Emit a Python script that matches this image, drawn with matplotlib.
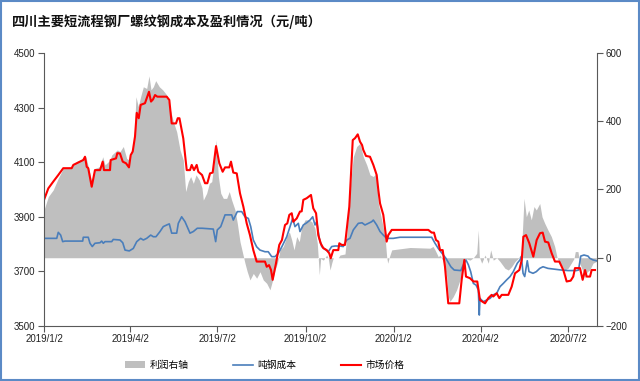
import numpy as np
import pandas as pd
import matplotlib
matplotlib.use("Agg")
import matplotlib.pyplot as plt
from matplotlib.patches import Rectangle, Patch
from matplotlib.lines import Line2D

plt.rcParams['font.family'] = ['Noto Sans CJK SC', 'DejaVu Sans']

'''---Data (days counted from 2019/1/2)---'''

title = "四川主要短流程钢厂螺纹钢成本及盈利情况（元/吨）"
labels = ["利润右轴", "吨钢成本", "市场价格"]
tick_dates = ["2019-01-02", "2019-04-02", "2019-07-02", "2019-10-02",
              "2020-01-02", "2020-04-02", "2020-07-02"]

#Market price (left axis)
price_day = [0, 4.5, 9.7, 14.9, 20.1, 28.9, 30.6, 41.0, 42.8, 44.6,
             46.2, 49.8, 53.2, 58.5, 61.3, 62.6, 68.9, 69.6, 75.2, 76.5,
             79.3, 82.2, 85.6, 88.7, 90.5, 92.6, 95.0, 96.8, 98.9, 100.9,
             105.4, 109.6, 111.7, 113.8, 115.9, 118.3, 128.1, 130.8, 133.3, 137.8,
             139.6, 141.4, 145.4, 149.0, 152.4, 154.2, 156.6, 159.4, 161.1, 165.0,
             168.1, 170.5, 173.3, 176.1, 179.6, 183.0, 186.5, 189.0, 193.4, 195.2,
             197.6, 201.2, 204.6, 208.1, 211.6, 215.0, 218.5, 222.0, 230.7, 232.5,
             234.9, 237.0, 238.7, 242.2, 245.6, 248.4, 249.8, 251.6, 254.0, 256.1,
             258.6, 260.2, 263.8, 267.2, 269.0, 270.7, 274.2, 278.7, 281.1, 284.0,
             286.3, 288.8, 291.6, 295.1, 297.8, 299.3, 302.0, 307.2, 308.3, 310.8,
             314.2, 318.7, 322.3, 324.7, 327.5, 329.9, 332.0, 333.3, 336.1, 340.3,
             343.8, 347.3, 349.0, 350.8, 354.2, 357.7, 359.4, 363.0, 401.2, 404.7,
             407.1, 409.2, 411.6, 413.4, 416.2, 418.6, 422.0, 433.5, 436.0, 438.8,
             440.5, 444.7, 448.2, 452.3, 455.1, 460.4, 463.8, 467.3, 469.0, 472.6,
             475.3, 477.8, 484.7, 488.2, 491.7, 496.2, 498.7, 500.4, 503.2, 506.6,
             510.8, 514.3, 517.8, 520.6, 523.0, 526.4, 530.0, 533.4, 537.9, 542.1,
             545.6, 549.8, 552.5, 554.3, 559.5, 562.3, 564.8, 566.5, 570.0, 571.7,
             575.2]
price = [3962, 4004, 4029, 4053, 4078, 4078, 4090, 4108, 4120, 4083,
         4078, 4010, 4071, 4071, 4102, 4071, 4071, 4108, 4114, 4133,
         4132, 4102, 4096, 4081, 4126, 4139, 4194, 4281, 4261, 4310,
         4316, 4358, 4322, 4330, 4346, 4340, 4340, 4328, 4242, 4242,
         4261, 4261, 4187, 4071, 4071, 4090, 4071, 4090, 4065, 4053,
         4023, 4023, 4059, 4062, 4159, 4096, 4065, 4081, 4081, 4102,
         4062, 4059, 3986, 3937, 3876, 3833, 3778, 3736, 3736, 3717,
         3723, 3705, 3669, 3730, 3797, 3815, 3840, 3870, 3876, 3907,
         3913, 3882, 3894, 3919, 3920, 3962, 3968, 3980, 3931, 3913,
         3833, 3803, 3785, 3778, 3766, 3748, 3778, 3778, 3803, 3797,
         3797, 3937, 4181, 4188, 4202, 4175, 4163, 4145, 4123, 4120,
         4090, 4053, 3998, 3949, 3907, 3809, 3833, 3852, 3852, 3842,
         3842, 3815, 3809, 3778, 3778, 3717, 3583, 3583, 3669, 3742,
         3681, 3675, 3663, 3663, 3595, 3583, 3602, 3614, 3608, 3620,
         3602, 3614, 3614, 3644, 3693, 3705, 3742, 3827, 3833, 3803,
         3754, 3815, 3840, 3842, 3809, 3806, 3766, 3736, 3736, 3705,
         3663, 3666, 3681, 3712, 3712, 3669, 3705, 3681, 3681, 3705,
         3705]

#Cost per ton (left axis)
cost_day = [0, 13.3, 14.9, 17.4, 19.5, 21.9, 40.4, 41.0, 46.2, 48.0,
            50.4, 53.2, 58.5, 60.2, 61.9, 63.7, 70.7, 72.3, 79.3, 82.2,
            84.6, 89.0, 93.2, 96.8, 100.9, 103.7, 107.2, 111.4, 114.1, 116.9,
            121.1, 124.5, 128.1, 130.8, 133.3, 138.5, 140.2, 143.7, 147.2, 152.4,
            155.9, 160.0, 165.0, 176.7, 179.2, 180.9, 184.5, 189.0, 195.9, 197.6,
            201.8, 206.4, 209.8, 213.3, 215.8, 218.5, 222.0, 225.5, 230.7, 234.1,
            237.7, 241.1, 244.6, 248.4, 253.4, 256.8, 259.6, 262.0, 265.5, 267.2,
            270.7, 274.2, 277.7, 280.5, 282.9, 284.7, 287.4, 289.9, 293.3, 296.8,
            300.3, 303.8, 309.0, 312.4, 316.0, 319.4, 322.9, 328.1, 332.0, 335.1,
            338.6, 342.1, 343.8, 347.3, 350.8, 354.2, 357.7, 364.6, 371.6, 404.7,
            408.2, 411.6, 416.8, 419.5, 424.7, 428.2, 435.1, 438.5, 440.5, 443.0,
            445.4, 448.2, 451.0, 453.4, 454.4, 455.1, 458.6, 462.1, 465.6, 469.0,
            472.6, 476.0, 479.5, 483.0, 486.5, 489.9, 494.1, 496.9, 498.3, 500.1,
            501.8, 504.5, 506.3, 510.5, 513.9, 517.5, 520.9, 526.1, 533.1, 540.0,
            547.0, 555.7, 558.0, 560.3, 563.7, 567.9, 569.7, 573.1, 576.6]
cost = [3821, 3821, 3843, 3833, 3809, 3811, 3811, 3825, 3825, 3803,
        3791, 3803, 3805, 3811, 3803, 3809, 3809, 3817, 3815, 3805,
        3778, 3775, 3784, 3809, 3821, 3815, 3821, 3833, 3827, 3827,
        3846, 3864, 3870, 3874, 3840, 3840, 3876, 3900, 3882, 3840,
        3846, 3858, 3858, 3855, 3809, 3852, 3864, 3907, 3907, 3888,
        3919, 3919, 3900, 3894, 3864, 3815, 3790, 3778, 3772, 3772,
        3754, 3754, 3766, 3791, 3827, 3864, 3894, 3864, 3876, 3846,
        3870, 3878, 3888, 3900, 3870, 3882, 3821, 3791, 3781, 3772,
        3791, 3793, 3793, 3791, 3815, 3821, 3852, 3876, 3878, 3870,
        3876, 3882, 3888, 3870, 3846, 3833, 3821, 3821, 3825, 3825,
        3803, 3784, 3760, 3748, 3717, 3705, 3703, 3730, 3742, 3724,
        3699, 3656, 3650, 3632, 3540, 3601, 3589, 3595, 3601, 3614,
        3620, 3644, 3656, 3669, 3681, 3699, 3730, 3742, 3754, 3693,
        3681, 3739, 3699, 3693, 3699, 3711, 3717, 3711, 3708, 3705,
        3703, 3703, 3705, 3756, 3760, 3756, 3748, 3742, 3739]

#Profit (right axis)
profit_day = [0, 4.5, 9.7, 14.9, 20.1, 28.9, 34.1, 41.0, 43.8, 46.2,
              49.8, 53.2, 58.5, 61.3, 63.7, 68.9, 70.7, 76.5, 79.3, 82.8,
              86.3, 89.0, 91.6, 94.0, 96.0, 98.4, 100.9, 103.7, 107.2, 109.6,
              111.7, 114.1, 116.6, 120.4, 123.9, 128.1, 131.5, 135.0, 138.5, 142.0,
              145.4, 147.9, 150.6, 153.1, 155.9, 158.7, 162.1, 164.9, 166.3, 169.8,
              172.6, 175.1, 177.5, 179.6, 182.0, 184.5, 187.2, 190.7, 193.4, 195.9,
              199.4, 201.8, 204.6, 207.4, 209.8, 212.2, 215.0, 218.5, 222.0, 225.5,
              228.9, 232.5, 235.9, 238.7, 241.1, 243.6, 246.4, 249.8, 253.4, 256.1,
              258.6, 261.0, 263.8, 266.5, 269.0, 272.5, 275.9, 279.5, 282.9, 285.3,
              287.4, 288.8, 291.6, 295.1, 296.8, 298.6, 300.3, 302.0, 307.2, 309.0,
              314.2, 316.0, 319.4, 322.9, 326.4, 329.9, 333.3, 336.9, 340.3, 343.8,
              346.6, 349.0, 352.5, 356.0, 357.7, 358.8, 360.6, 363.0, 382.1, 402.9,
              406.1, 408.2, 411.6, 413.4, 416.8, 420.4, 422.0, 423.8, 427.2, 430.7,
              434.2, 437.1, 439.5, 444.7, 448.2, 451.7, 453.4, 454.4, 456.9, 460.4,
              463.8, 466.3, 469.0, 472.6, 476.0, 481.2, 484.7, 488.2, 491.7, 495.1,
              498.3, 501.1, 503.5, 506.0, 508.7, 511.5, 513.9, 517.5, 519.9, 522.7,
              526.1, 529.6, 533.1, 535.8, 540.0, 543.6, 547.0, 550.4, 553.3, 554.6,
              557.4, 559.2, 562.7, 564.4, 567.1, 569.7, 573.1, 576.6]
profit = [140, 179, 199, 233, 262, 267, 282, 291, 296, 267,
          223, 262, 267, 296, 272, 286, 301, 316, 311, 326,
          291, 286, 311, 345, 472, 443, 472, 501, 496, 533,
          492, 501, 519, 501, 492, 477, 438, 399, 369, 316,
          286, 194, 223, 238, 218, 243, 228, 205, 169, 189,
          218, 223, 277, 345, 238, 189, 174, 174, 194, 169,
          140, 101, 47, 13, -16, -41, -65, -46, -60, -41,
          -65, -75, -94, -65, -36, -16, 23, 33, 62, 76,
          52, 23, 62, 47, 91, 111, 111, 106, 86, 42,
          -50, -2, -7, 8, -2, -36, -16, 0, 0, 8,
          11, 62, 199, 296, 326, 335, 296, 272, 243, 238,
          247, 159, 111, 62, 3, -16, 3, 23, 30, 28,
          33, 23, 3, 8, -11, -55, -114, -128, -114, -94,
          -65, -36, -2, -7, 0, 13, 81, 3, -16, 8,
          -16, 23, -7, 0, -11, -31, -36, -26, -11, -2,
          13, 174, 120, 140, 111, 150, 140, 159, 120, 101,
          81, 62, 33, -2, -21, -36, -31, -16, -2, 18,
          18, -16, -41, -60, -41, -36, -16, -11]

'''---Plot---'''

start = pd.Timestamp("2019-01-02")

def to_dates(days):
    return start + pd.to_timedelta(np.array(days), unit="D")

gray = "#bfbfbf"
blue = "#4a7ebb"
red = "#ff0000"
axcol = "#595959"

fig = plt.figure(figsize=(6.4, 3.81), dpi=100)
ax = fig.add_axes([0.06875, 0.1444, 0.8641, 0.7165])
ax2 = ax.twinx()
ax.set_zorder(ax2.get_zorder() + 1)
ax.patch.set_visible(False)

ax2.fill_between(to_dates(profit_day), 0, profit, color=gray, lw=0)
ax.plot(to_dates(cost_day), cost, color=blue, lw=1.2)
ax.plot(to_dates(price_day), price, color=red, lw=1.5)

ax.set_ylim(3500, 4500)
ax.set_yticks(range(3500, 4501, 200))
ax2.set_ylim(-200, 600)
ax2.set_yticks(range(-200, 601, 200))
ax.set_xlim(start, start + pd.Timedelta(days=577.3))

xt = pd.to_datetime(tick_dates)
ax.set_xticks(xt)
ax.set_xticklabels([f"{d.year}/{d.month}/{d.day}" for d in xt])

for s in ["top", "right"]:
    ax.spines[s].set_visible(False)
for s in ["top", "left", "bottom"]:
    ax2.spines[s].set_visible(False)
ax.spines["left"].set_color(axcol)
ax.spines["bottom"].set_color(axcol)
ax2.spines["right"].set_color(axcol)

for a in (ax, ax2):
    a.tick_params(direction="out", length=4, width=0.8, color=axcol,
                  labelsize=7, labelcolor="#222222", pad=2)
    for lab in a.get_xticklabels() + a.get_yticklabels():
        lab.set_family(["Liberation Sans", "DejaVu Sans"])

handles = [Patch(facecolor=gray, edgecolor="none"),
           Line2D([], [], color=blue, lw=1.2),
           Line2D([], [], color=red, lw=1.5)]
fig.legend(handles, labels, loc="center", bbox_to_anchor=(265 / 640, 1 - 365 / 381),
           ncol=3, frameon=False, fontsize=7, handlelength=2.0,
           handletextpad=0.5, columnspacing=4.6)

fig.text(12 / 640, 1 - 22 / 381, title, fontsize=9.5, fontweight="bold",
         ha="left", va="center", color="#111111")

fig.add_artist(Rectangle((0.001, 0.002), 0.997, 0.995, transform=fig.transFigure,
                         fill=False, edgecolor="#5b8ac6", lw=1.5))

fig.savefig("out.png", dpi=100)
